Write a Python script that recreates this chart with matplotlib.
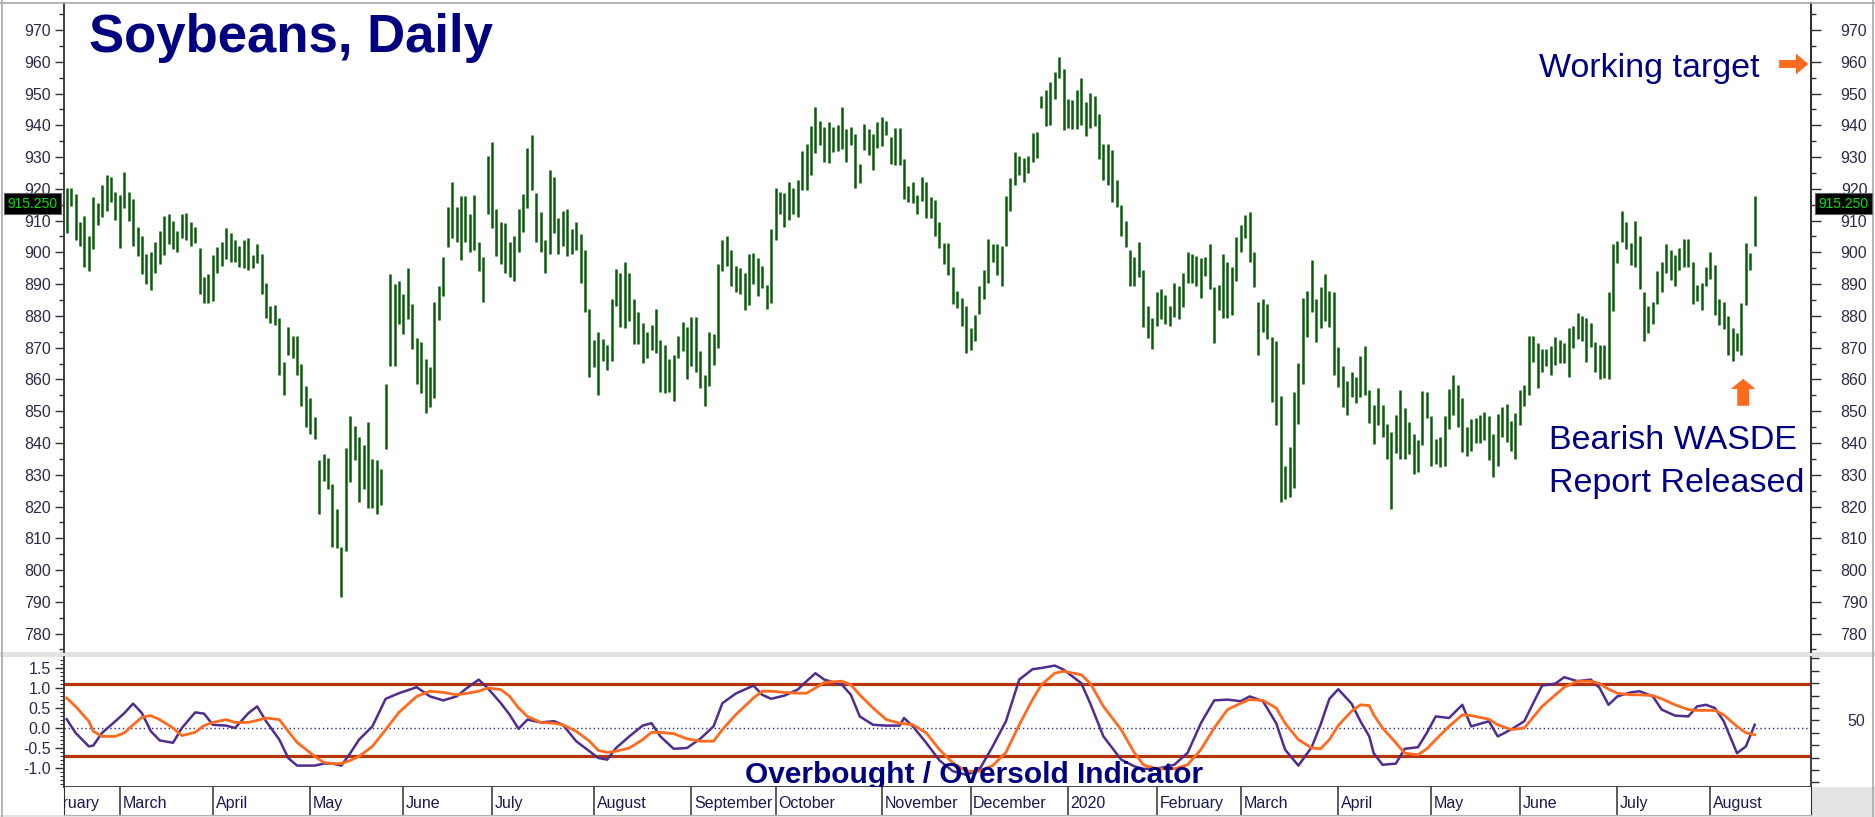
import numpy as np
import matplotlib.pyplot as plt
import matplotlib.transforms as mtransforms
from matplotlib.patches import Rectangle, FancyArrow
from matplotlib.lines import Line2D

plt.rcParams['font.family'] = ['Liberation Sans', 'DejaVu Sans']

# daily bars, Feb 2019 - Aug 2020 (cents/bushel)
highs = [
    920.2, 920.4, 918.4, 909.7, 911.5, 905.3, 917.3, 915.5, 921.3, 924.3,
    923.6, 919.0, 918.0, 925.4, 919.0, 916.7, 908.0, 905.0, 899.5, 900.2,
    903.3, 906.8, 911.5, 912.0, 910.0, 906.8, 912.2, 912.4, 909.5, 908.0,
    901.3, 892.2, 893.2, 899.2, 901.6, 903.3, 907.6, 906.0, 904.0, 902.0,
    904.0, 904.4, 899.2, 902.5, 899.5, 890.5, 883.0, 883.4, 879.4, 865.5,
    876.5, 873.6, 873.6, 864.9, 858.0, 854.0, 848.2, 834.6, 836.4, 835.4,
    827.1, 819.3, 807.3, 838.5, 848.6, 845.5, 842.0, 839.3, 846.6, 835.0,
    834.6, 831.7, 858.5, 893.2, 890.0, 891.0, 887.0, 895.0, 883.6, 873.0,
    871.9, 866.4, 864.0, 884.3, 889.3, 898.6, 914.4, 922.0, 914.4, 917.9,
    917.9, 912.0, 918.0, 903.3,
    898.6, 930.4, 934.7, 913.8, 909.7, 909.2, 903.3, 905.3, 913.8, 918.4,
    932.7, 937.1, 918.8, 912.6, 903.9, 925.8, 923.7, 910.7, 913.0, 913.8,
    907.2, 909.5, 905.7, 900.6, 882.3, 872.5, 874.8, 872.7, 870.7, 885.3,
    894.8, 893.6, 896.9, 893.6, 885.3, 881.2, 877.7, 874.8, 877.1, 882.3,
    872.3, 870.7, 866.4, 867.8, 873.6, 878.0, 876.5, 879.6, 879.6, 869.0,
    861.4, 874.8, 874.2, 896.3, 903.9, 905.3, 900.6, 895.7, 895.0, 893.6,
    899.5, 899.8, 898.3, 895.7, 889.7, 907.2, 920.4, 919.0, 918.8, 922.0,
    920.2, 922.8, 932.0, 934.2, 939.7, 945.8, 941.4, 939.4, 940.9, 939.4,
    940.2, 945.8, 938.8, 939.4, 937.4, 927.8, 940.5, 938.8, 937.4, 940.9,
    942.5, 941.4, 936.3, 939.1, 939.1, 929.3, 920.8, 922.0, 918.0,
    923.7, 922.3, 917.3, 916.5, 909.7, 903.0, 903.0, 895.5, 887.8, 885.5,
    883.2, 876.2, 880.4, 889.3, 894.4, 904.1, 902.5, 902.5, 902.1, 917.6,
    923.4, 931.6, 930.4, 929.7, 930.4, 937.6, 937.9, 949.3, 951.0, 953.7,
    956.9, 961.5, 957.7, 948.4, 948.1, 951.0, 954.9, 947.2, 950.2, 949.1,
    943.7, 934.0, 934.0, 932.1, 922.8, 915.0, 910.0, 900.6, 898.6, 903.3,
    894.4, 883.2, 879.2, 887.4, 888.5, 886.7, 883.2, 890.5, 889.3, 893.6,
    900.2, 899.5, 899.0, 898.3, 898.6, 902.5, 889.0, 889.7, 899.5, 897.1,
    895.5, 904.8, 908.5, 911.8, 912.6, 900.2, 884.3, 885.3, 883.9, 873.4,
    872.2, 854.8, 832.6, 838.7, 856.2, 865.3, 885.5, 887.8, 897.5, 885.3,
    889.0, 893.2, 887.8, 887.6, 870.1, 864.3, 859.4, 862.2, 860.8,
    867.5, 870.4, 856.7, 852.1, 857.3, 852.1, 845.9, 843.6, 848.9, 856.7,
    850.9, 846.6, 842.8, 841.0, 856.4, 856.1, 848.6, 841.2, 842.0, 848.6,
    857.1, 861.4, 858.2, 854.0, 845.1, 847.4, 848.0, 848.9, 849.7, 848.6,
    842.8, 849.2, 851.2, 852.4, 846.8, 849.4, 856.7, 858.2, 873.6, 873.6,
    871.5, 869.5, 869.5, 870.4, 873.4, 872.5, 871.5, 876.2, 876.9, 880.8,
    880.0, 879.2, 877.7, 871.9, 870.7, 870.7, 887.6, 902.7, 903.6, 913.0,
    909.7, 903.0, 910.0, 905.3, 887.4, 883.2, 884.3, 894.0, 896.9, 902.7,
    900.6, 899.2, 901.5, 904.1, 904.1, 897.1, 889.7, 890.5, 895.5, 900.2,
    896.0, 885.3, 884.3, 880.0, 876.2, 874.5, 884.1, 903.0, 899.8, 917.9,
]
lows = [
    906.2, 914.6, 904.0, 902.0, 895.5, 894.0, 901.0, 908.5, 911.0, 913.0,
    916.0, 910.3, 901.3, 914.0, 910.0, 902.0, 899.0, 893.2, 890.0, 888.2,
    893.4, 896.3, 899.2, 902.7, 901.0, 900.2, 904.5, 903.9, 902.0, 903.0,
    887.0, 884.0, 884.0, 884.7, 893.4, 895.7, 898.0, 896.9, 897.0, 895.5,
    895.0, 894.3, 895.0, 896.7, 887.0, 879.4, 877.7, 877.0, 861.4, 855.2,
    867.8, 866.6, 861.4, 851.7, 845.0, 842.8, 841.3, 817.7, 828.0, 825.6,
    807.3, 807.0, 791.6, 806.0, 827.6, 834.6, 821.5, 825.6, 819.5, 819.5,
    817.5, 820.6, 838.1, 864.3, 864.3, 877.3, 874.2, 879.0, 869.5, 858.5,
    855.6, 849.4, 851.4, 854.0, 878.6, 886.2, 901.6, 904.4, 903.3, 897.5,
    903.3, 900.2, 900.6, 894.0,
    884.3, 912.0, 907.6, 899.0, 896.3, 893.6, 892.4, 891.0, 900.2, 906.4,
    914.0, 919.6, 903.3, 900.2, 893.6, 899.5, 906.0, 899.5, 902.0, 899.0,
    899.5, 900.6, 890.5, 881.2, 860.8, 863.8, 855.2, 865.8, 863.1, 865.8,
    883.2, 876.5, 876.1, 878.3, 871.3, 871.3, 865.3, 866.6, 869.4, 868.4,
    856.0, 855.6, 856.2, 853.3, 866.6, 869.0, 860.2, 864.3, 862.2, 857.4,
    851.7, 858.0, 864.5, 870.0, 894.0, 895.7, 889.3, 887.6, 886.8, 881.8,
    883.4, 890.0, 886.2, 888.8, 882.3, 884.0, 904.0, 912.0, 908.1, 910.3,
    912.2, 911.0, 919.6, 919.6, 924.3, 931.2, 933.9, 928.3, 928.1, 931.6,
    931.8, 932.4, 928.6, 933.9, 920.2, 921.8, 932.1, 930.7, 925.8, 933.0,
    933.6, 937.1, 927.8, 927.5, 927.5, 916.7, 915.8, 915.5, 912.0,
    916.1, 910.9, 910.9, 905.0, 901.3, 896.3, 892.8, 883.9, 882.4, 876.9,
    868.4, 869.2, 872.2, 880.6, 885.3, 890.5, 897.1, 892.8, 889.3, 902.1,
    913.0, 921.1, 924.2, 922.3, 925.1, 928.3, 929.7, 945.6, 939.7, 940.2,
    948.4, 954.9, 938.6, 939.0, 938.8, 938.8, 940.2, 936.5, 939.0, 939.7,
    929.5, 922.8, 921.1, 915.8, 914.2, 905.0, 901.8, 889.3, 889.3, 892.2,
    876.5, 873.0, 869.5, 876.9, 878.9, 877.3, 876.9, 879.7, 878.9, 882.7,
    890.5, 890.5, 889.3, 885.5, 892.5, 888.5, 871.5, 882.0, 879.2, 879.2,
    880.4, 891.1, 900.2, 904.5, 897.1, 889.0, 867.8, 874.8, 872.7, 852.9,
    845.7, 821.5, 822.4, 823.0, 825.9, 845.9, 858.7, 873.4, 881.2, 871.9,
    876.2, 878.3, 876.5, 861.4, 857.5, 851.2, 848.9, 854.4, 852.6,
    854.4, 855.2, 846.2, 839.6, 845.7, 842.0, 835.0, 819.1, 837.0, 835.0,
    835.0, 836.4, 830.3, 830.8, 839.3, 848.0, 832.9, 833.5, 832.3, 832.9,
    844.3, 848.9, 845.1, 837.3, 835.8, 837.5, 839.9, 840.1, 840.8, 834.6,
    829.4, 832.9, 842.0, 840.4, 837.5, 835.0, 845.7, 851.5, 855.2, 865.5,
    857.3, 862.2, 864.1, 861.4, 864.5, 865.2, 865.2, 860.8, 869.9, 872.7,
    872.2, 865.5, 870.1, 862.2, 860.2, 860.6, 860.2, 881.7, 896.7, 903.3,
    901.0, 896.0, 895.5, 888.5, 872.2, 874.5, 877.3, 883.9, 887.4, 893.6,
    891.3, 889.3, 894.4, 895.5, 895.5, 883.9, 884.7, 882.0, 889.3, 891.6,
    880.4, 877.1, 876.0, 867.6, 865.7, 869.0, 867.8, 883.5, 894.6, 902.1,
]
last_price = 915.25

# overbought / oversold indicator, sampled at bar numbers
osc_idx = [0, 2, 5, 6, 8, 11, 13, 15, 17, 19, 21, 24, 26, 29, 31, 33, 36, 38, 41, 43,
           45, 48, 50, 52, 56, 58, 60, 62, 64, 66, 69, 72, 75, 79, 82, 85, 88, 90, 93, 95,
           98, 100, 102, 104, 107, 110, 112, 115, 118, 120, 122, 124, 127, 130, 132, 134,
           137, 140, 143, 146, 148, 151, 155, 157, 159, 162, 165, 167, 169, 171, 175, 177,
           179, 182, 185, 188, 189, 191, 194, 197, 200, 203, 206, 209, 212, 215, 218, 220,
           223, 225, 229, 231, 234, 238, 241, 243, 246, 250, 253, 256, 259, 262, 265, 267,
           270, 273, 275, 278, 281, 283, 285, 287, 290, 292, 294, 295, 297, 300, 302, 305,
           307, 309, 312, 315, 317, 321, 323, 326, 329, 331, 333, 336, 338, 341, 344, 346,
           348, 350, 353, 355, 358, 360, 363, 366, 368, 370, 372, 374, 377, 379, 381]
osc_fast = [0.22, -0.12, -0.46, -0.44, -0.12, 0.17, 0.37, 0.61, 0.37, -0.08,
            -0.31, -0.37, 0.0, 0.39, 0.36, 0.08, 0.06, 0.0, 0.37, 0.54,
            0.17, -0.29, -0.75, -0.94, -0.94, -0.89, -0.89, -0.94, -0.63, -0.29,
            0.04, 0.73, 0.87, 1.02, 0.79, 0.69, 0.79, 0.97, 1.21, 1.0,
            0.62, 0.33, -0.02, 0.21, 0.14, 0.17, 0.08, -0.33, -0.58, -0.75,
            -0.79, -0.5, -0.21, 0.06, 0.12, -0.21, -0.52, -0.5, -0.27, 0.04,
            0.62, 0.86, 1.06, 0.83, 0.73, 0.81, 0.96, 1.17, 1.37, 1.21,
            1.08, 0.83, 0.29, 0.08, 0.06, 0.06, 0.25, 0.04, -0.37, -0.81,
            -1.08, -1.17, -1.04, -0.46, 0.17, 1.21, 1.47, 1.5, 1.56, 1.46,
            1.12, 0.62, -0.21, -0.79, -0.96, -1.02, -1.02, -0.92, -0.62, 0.12,
            0.69, 0.71, 0.67, 0.79, 0.67, 0.12, -0.54, -0.94, -0.48, 0.08,
            0.73, 0.97, 0.61, 0.17, -0.21, -0.63, -0.92, -0.89, -0.52, -0.48,
            -0.12, 0.29, 0.25, 0.58, 0.04, 0.17, -0.21, -0.04, 0.17, 0.62,
            1.06, 1.11, 1.27, 1.17, 1.21, 1.0, 0.58, 0.79, 0.89, 0.92,
            0.79, 0.46, 0.31, 0.29, 0.54, 0.58, 0.5, 0.17, -0.63, -0.46, 0.08]
osc_slow = [0.75, 0.54, 0.17, -0.08, -0.21, -0.21, -0.12, 0.08, 0.27, 0.31,
            0.21, 0.0, -0.19, -0.11, 0.06, 0.14, 0.21, 0.14, 0.14, 0.19,
            0.25, 0.21, -0.08, -0.36, -0.71, -0.86, -0.89, -0.89, -0.81, -0.71,
            -0.46, -0.04, 0.39, 0.79, 0.92, 0.89, 0.83, 0.86, 0.92, 1.0,
            0.96, 0.79, 0.5, 0.29, 0.14, 0.12, 0.08, -0.08, -0.33, -0.56,
            -0.61, -0.58, -0.5, -0.29, -0.11, -0.11, -0.14, -0.27, -0.33, -0.33,
            -0.04, 0.33, 0.75, 0.92, 0.92, 0.89, 0.87, 0.87, 1.0, 1.14,
            1.17, 1.08, 0.83, 0.5, 0.21, 0.12, 0.11, 0.08, -0.12, -0.54,
            -0.87, -1.08, -1.08, -0.94, -0.61, 0.08, 0.71, 1.08, 1.37, 1.42,
            1.33, 1.12, 0.54, -0.04, -0.62, -0.92, -1.02, -1.02, -0.92, -0.54,
            0.0, 0.46, 0.62, 0.71, 0.69, 0.5, 0.12, -0.29, -0.5, -0.52,
            -0.29, 0.06, 0.42, 0.58, 0.56, 0.33, 0.0, -0.37, -0.63, -0.67,
            -0.52, -0.29, 0.04, 0.33, 0.31, 0.22, 0.08, -0.04, 0.0, 0.27,
            0.54, 0.83, 1.02, 1.17, 1.17, 1.11, 0.97, 0.87, 0.83, 0.83,
            0.81, 0.73, 0.58, 0.46, 0.44, 0.44, 0.44, 0.33, 0.04, -0.12, -0.17]
overbought, oversold = 1.1, -0.7

month_idx = [-7.5, 12, 33, 55, 76, 96, 119, 141, 160, 184, 204, 226, 246, 265, 287, 308, 328, 350, 371]
month_names = ['February', 'March', 'April', 'May', 'June', 'July', 'August', 'September',
               'October', 'November', 'December', '2020', 'February', 'March', 'April',
               'May', 'June', 'July', 'August']

W, H = 1875, 817
NAVY = '#000080'
LBL = '#2b2b45'
GREEN = '#0a5c0a'
ORANGE = '#ff6a1f'


def box(x0, y0, x1, y1):
    return [x0 / W, 1 - y1 / H, (x1 - x0) / W, (y1 - y0) / H]


fig = plt.figure(figsize=(W / 100, H / 100), dpi=100)
ax = fig.add_axes(box(64, 3, 1811, 652))
ax2 = fig.add_axes(box(64, 657, 1811, 787))
ax3 = fig.add_axes(box(64, 787, 1811, 815))
xlim = (-0.6, 393.7)

# ---- price panel
x = np.arange(len(highs))
ax.vlines(x, lows, highs, color=GREEN, lw=1.8)
ax.set_xlim(*xlim)
ax.set_ylim(774.2, 978.5)
ax.set_xticks([])
ax.set_yticks(np.arange(780, 971, 10))
ax.set_yticks(np.arange(775, 980, 5), minor=True)
ax.tick_params(axis='y', which='major', direction='out', length=6.5, width=1,
               color='#303030', labelsize=11.5, labelcolor=LBL, pad=3)
ax.tick_params(axis='y', which='minor', direction='out', length=3.5, width=1, color='#303030')
for s in ['top', 'bottom']:
    ax.spines[s].set_visible(False)
for s in ['left', 'right']:
    ax.spines[s].set_color('#303030')
    ax.spines[s].set_linewidth(1.3)

axr = ax.twinx()
axr.set_ylim(ax.get_ylim())
axr.set_yticks(np.arange(780, 971, 10))
axr.set_yticks(np.arange(775, 980, 5), minor=True)
axr.tick_params(axis='y', which='major', direction='out', length=7.5, width=1,
                color='#303030', labelsize=11.5, labelcolor=LBL, pad=33)
axr.tick_params(axis='y', which='minor', direction='out', length=3.5, width=1, color='#303030')
for lab in axr.get_yticklabels():
    lab.set_horizontalalignment('right')
for s in ['top', 'bottom', 'left']:
    axr.spines[s].set_visible(False)
axr.spines['right'].set_color('#303030')
axr.spines['right'].set_linewidth(1.3)

# last price boxes
tr = mtransforms.blended_transform_factory(fig.transFigure, ax.transData)
for xpos in (7 / W, 1818 / W):
    fig.text(xpos, last_price, '915.250', transform=tr, ha='left', va='center',
             fontsize=10, color='#00e600', zorder=10,
             bbox=dict(boxstyle='square,pad=0.25', fc='black', ec='#606060', lw=0.8))

# annotations
fig.text(89 / W, 1 - 52 / H, 'Soybeans, Daily', fontsize=38, fontweight='bold',
         color=NAVY, va='baseline', ha='left')
fig.text(1539 / W, 1 - 77 / H, 'Working target', fontsize=24.5, color=NAVY,
         va='baseline', ha='left')
fig.text(1549 / W, 1 - 449 / H, 'Bearish WASDE', fontsize=24.5, color=NAVY,
         va='baseline', ha='left')
fig.text(1549 / W, 1 - 492 / H, 'Report Released', fontsize=24.5, color=NAVY,
         va='baseline', ha='left')
ax.add_patch(FancyArrow(386.5, 959.3, 6.6, 0, width=2.5, head_width=6.6, head_length=2.8,
                        length_includes_head=True, color=ORANGE, lw=0, clip_on=False))
ax.add_patch(FancyArrow(378.4, 851.7, 0, 8.5, width=2.7, head_width=5.6, head_length=3.2,
                        length_includes_head=True, color=ORANGE, lw=0, clip_on=False))

# ---- indicator panel
ax2.plot(osc_idx, osc_fast, color='#4f2d8f', lw=1.8, zorder=3)
ax2.plot(osc_idx, osc_slow, color=ORANGE, lw=2.0, zorder=4)
ax2.axhline(overbought, color='#b5340a', lw=2.3, zorder=2)
ax2.axhline(oversold, color='#b5340a', lw=2.3, zorder=2)
ax2.axhline(0, color='#2a2a8a', lw=1.0, ls=(0, (1, 2)), zorder=1)
ax2.set_xlim(*xlim)
ax2.set_ylim(-1.475, 1.775)
ax2.set_yticks([-1.0, -0.5, 0.0, 0.5, 1.0, 1.5])
ax2.set_yticklabels(['-1.0', '-0.5', '0.0', '0.5', '1.0', '1.5'])
ax2.set_yticks(np.arange(-1.4, 1.75, 0.1), minor=True)
ax2.tick_params(axis='y', which='major', direction='out', length=6.5, width=1,
                color='#303030', labelsize=11.5, labelcolor=LBL, pad=3)
ax2.tick_params(axis='y', which='minor', direction='out', length=3, width=0.8, color='#303030')
ax2.set_xticks([])
ax2.set_xticks(np.arange(3, 394, 5), minor=True)
ax2.tick_params(axis='x', which='minor', direction='out', length=5, width=1, color='#303030')
ax2.spines['top'].set_visible(False)
for s in ['left', 'right', 'bottom']:
    ax2.spines[s].set_color('#303030')
    ax2.spines[s].set_linewidth(1.3)
ax2.text(153, -1.375, 'Overbought / Oversold Indicator', fontsize=21.5, fontweight='bold',
         color=NAVY, va='baseline', ha='left', zorder=6)

ax2r = ax2.twinx()
ax2r.set_ylim(-3.7, 101.2)
ax2r.set_yticks(np.arange(0, 101, 10))
ax2r.set_yticklabels(['50' if v == 50 else '' for v in range(0, 101, 10)])
ax2r.tick_params(axis='y', direction='out', length=6, width=1, color='#303030',
                 labelsize=11.5, labelcolor=LBL, pad=33)
for lab in ax2r.get_yticklabels():
    lab.set_horizontalalignment('right')
for s in ['top', 'bottom', 'left', 'right']:
    ax2r.spines[s].set_visible(False)

# ---- month strip
ax3.set_xlim(*xlim)
ax3.set_ylim(0, 1)
ax3.set_xticks([])
ax3.set_yticks([])
ax3.vlines(month_idx, 0, 1, color='#404040', lw=1.2)
for m, name in zip(month_idx, month_names):
    ax3.text(m + 0.6, 0.42, name, ha='left', va='center', fontsize=11.5,
             color='#1a1a50', clip_on=True)
ax3.spines['top'].set_visible(False)
for s in ['left', 'right']:
    ax3.spines[s].set_color('#303030')
ax3.spines['bottom'].set_color('#b0b0b0')

# ---- frame pieces
fig.add_artist(Rectangle((0, 1 - 657 / H), 1, 5 / H, transform=fig.transFigure,
                         fc='#e2e2e2', ec='none', zorder=0))
fig.add_artist(Rectangle((1811 / W, 0), 1 - 1811 / W, 30 / H, transform=fig.transFigure,
                         fc='#e4e4e4', ec='none', zorder=0))
fig.add_artist(Rectangle((0, 0), 1, 2 / H, transform=fig.transFigure,
                         fc='#e4e4e4', ec='none', zorder=0))
fig.add_artist(Line2D([2 / W, 2 / W], [0, 1], transform=fig.transFigure, color='#a8a8a8', lw=1.2))
fig.add_artist(Line2D([0, 1], [1 - 2.5 / H, 1 - 2.5 / H], transform=fig.transFigure,
                      color='#a8a8a8', lw=1.2))
fig.add_artist(Line2D([1873 / W, 1873 / W], [0, 1], transform=fig.transFigure,
                      color='#a8a8a8', lw=1.2))

fig.savefig('out.png', dpi=100, facecolor='white')
